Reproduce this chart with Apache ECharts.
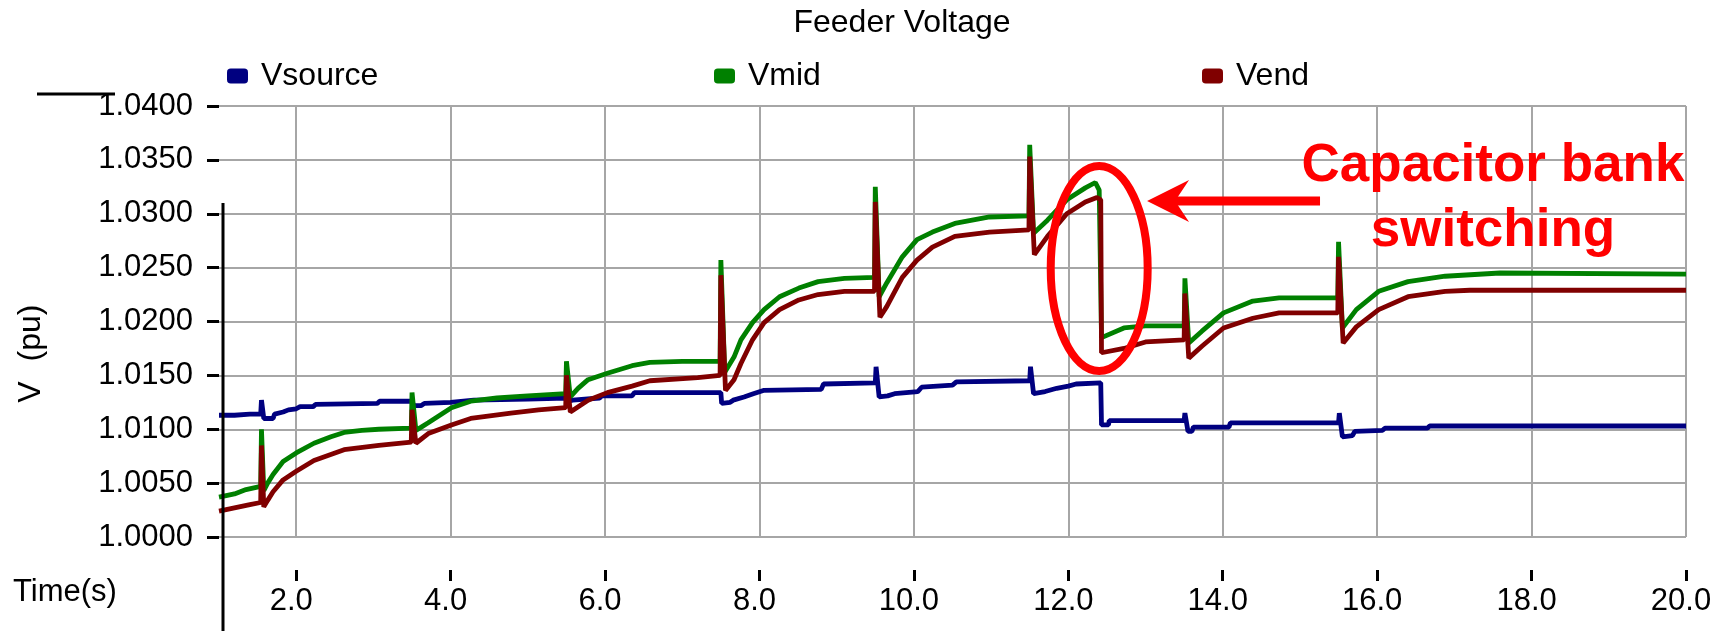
<!DOCTYPE html>
<html><head><meta charset="utf-8">
<script src="https://cdn.jsdelivr.net/npm/echarts@6/dist/echarts.min.js"></script>
<style>html,body{margin:0;padding:0;background:#fff}#c{width:1729px;height:631px}</style>
</head><body><div id="c"></div>
<script>
// ---- data ----
const seriesNames = ['Vsource', 'Vmid', 'Vend'];
const xTickValues = [2, 4, 6, 8, 10, 12, 14, 16, 18, 20];
const yMin = 1.0, yMax = 1.04, yStep = 0.005;

const vsource = [[1.00,1.0113],[1.20,1.0113],[1.40,1.0114],[1.54,1.0114],[1.55,1.0127],[1.57,1.0127],[1.58,1.0110],[1.70,1.0110],[1.72,1.0114],[1.83,1.0116],[1.90,1.0118],[2.00,1.0119],[2.05,1.0121],[2.22,1.0121],[2.25,1.0123],[3.05,1.0124],[3.08,1.0126],[3.50,1.0126],[3.52,1.0122],[3.62,1.0122],[3.66,1.0124],[4.00,1.0125],[4.30,1.0127],[5.00,1.0128],[5.50,1.0129],[5.52,1.0126],[5.58,1.0127],[5.93,1.0129],[5.96,1.0131],[6.35,1.0131],[6.38,1.0134],[7.50,1.0134],[7.51,1.0124],[7.62,1.0125],[7.66,1.0127],[7.80,1.0130],[7.92,1.0133],[8.05,1.0136],[8.80,1.0137],[8.83,1.0142],[9.50,1.0143],[9.51,1.0158],[9.53,1.0158],[9.55,1.0130],[9.66,1.0131],[9.75,1.0133],[10.05,1.0135],[10.10,1.0139],[10.50,1.0141],[10.55,1.0144],[11.50,1.0145],[11.51,1.0158],[11.53,1.0158],[11.55,1.0133],[11.70,1.0135],[11.85,1.0138],[12.00,1.0140],[12.10,1.0142],[12.42,1.0143],[12.43,1.0104],[12.52,1.0104],[12.53,1.0108],[13.50,1.0108],[13.51,1.0115],[13.53,1.0115],[13.55,1.0098],[13.60,1.0098],[13.62,1.0102],[14.08,1.0102],[14.10,1.0106],[15.50,1.0106],[15.51,1.0115],[15.53,1.0115],[15.55,1.0093],[15.68,1.0094],[15.71,1.0098],[16.07,1.0099],[16.10,1.0101],[16.65,1.0101],[16.68,1.0103],[20.00,1.0103]];

const vmid = [[1.00,1.0037],[1.20,1.0040],[1.35,1.0044],[1.54,1.0047],[1.55,1.0100],[1.57,1.0100],[1.58,1.0043],[1.63,1.0050],[1.70,1.0058],[1.83,1.0070],[2.00,1.0078],[2.23,1.0087],[2.45,1.0093],[2.62,1.0097],[2.85,1.0099],[3.07,1.0100],[3.49,1.0101],[3.50,1.0134],[3.52,1.0134],[3.55,1.0099],[3.62,1.0102],[3.71,1.0106],[3.86,1.0113],[4.01,1.0120],[4.26,1.0126],[4.60,1.0129],[5.00,1.0131],[5.49,1.0133],[5.50,1.0163],[5.52,1.0163],[5.55,1.0130],[5.65,1.0138],[5.78,1.0146],[6.03,1.0152],[6.35,1.0159],[6.58,1.0162],[7.00,1.0163],[7.49,1.0163],[7.50,1.0257],[7.52,1.0257],[7.55,1.0153],[7.67,1.0167],[7.76,1.0183],[7.91,1.0199],[8.06,1.0211],[8.26,1.0223],[8.51,1.0231],[8.76,1.0237],[9.10,1.0240],[9.49,1.0241],[9.50,1.0325],[9.52,1.0325],[9.55,1.0223],[9.65,1.0236],[9.85,1.0260],[10.04,1.0276],[10.24,1.0283],[10.53,1.0291],[10.98,1.0297],[11.49,1.0298],[11.50,1.0364],[11.52,1.0364],[11.55,1.0282],[11.73,1.0294],[11.98,1.0313],[12.22,1.0324],[12.35,1.0329],[12.40,1.0322],[12.42,1.0322],[12.43,1.0185],[12.72,1.0194],[13.00,1.0196],[13.50,1.0196],[13.51,1.0240],[13.53,1.0240],[13.56,1.0180],[13.73,1.0191],[14.01,1.0208],[14.39,1.0219],[14.73,1.0222],[15.49,1.0222],[15.50,1.0274],[15.52,1.0274],[15.55,1.0194],[15.73,1.0211],[16.02,1.0228],[16.40,1.0237],[16.88,1.0242],[17.59,1.0245],[20.00,1.0244]];

const vend = [[1.00,1.0024],[1.20,1.0027],[1.40,1.0030],[1.54,1.0032],[1.55,1.0085],[1.57,1.0085],[1.58,1.0028],[1.63,1.0034],[1.70,1.0042],[1.83,1.0053],[2.00,1.0061],[2.23,1.0071],[2.62,1.0081],[3.07,1.0085],[3.49,1.0088],[3.50,1.0118],[3.52,1.0118],[3.55,1.0087],[3.71,1.0096],[4.01,1.0104],[4.26,1.0110],[4.78,1.0115],[5.14,1.0118],[5.49,1.0120],[5.50,1.0150],[5.52,1.0150],[5.55,1.0116],[5.78,1.0127],[6.03,1.0134],[6.35,1.0140],[6.58,1.0145],[7.20,1.0148],[7.49,1.0150],[7.50,1.0243],[7.52,1.0243],[7.56,1.0136],[7.67,1.0146],[7.76,1.0161],[7.91,1.0183],[8.06,1.0199],[8.26,1.0211],[8.51,1.0220],[8.76,1.0225],[9.10,1.0228],[9.49,1.0228],[9.50,1.0311],[9.52,1.0311],[9.56,1.0204],[9.65,1.0214],[9.85,1.0241],[10.04,1.0257],[10.24,1.0269],[10.53,1.0279],[10.98,1.0283],[11.49,1.0285],[11.50,1.0353],[11.52,1.0353],[11.56,1.0262],[11.73,1.0279],[11.98,1.0300],[12.22,1.0311],[12.37,1.0315],[12.42,1.0313],[12.43,1.0171],[12.72,1.0175],[13.00,1.0181],[13.50,1.0183],[13.51,1.0226],[13.53,1.0226],[13.56,1.0166],[13.73,1.0177],[14.01,1.0194],[14.39,1.0203],[14.73,1.0208],[15.49,1.0208],[15.50,1.0260],[15.52,1.0260],[15.56,1.0180],[15.73,1.0195],[16.02,1.0211],[16.40,1.0223],[16.88,1.0228],[17.20,1.0229],[20.00,1.0229]];

const colors = ['#000080', '#008000', '#800000'];
const FONT = '"Liberation Sans", Arial, sans-serif';

// ---- chart ----
const chart = echarts.init(document.getElementById('c'), null, {renderer: 'canvas'});

function legendFor(name, left) {
  return {
    data: [name], left: left, top: 60, padding: 0,
    icon: 'roundRect', itemWidth: 21, itemHeight: 15,
    textStyle: {fontSize: 32, fontFamily: FONT, color: '#000', padding: [0, 0, 0, 8]},
    selectedMode: false
  };
}

const option = {
  animation: false,
  backgroundColor: '#fff',
  title: {
    text: 'Feeder Voltage', left: 897, textAlign: 'center', top: 2,
    textStyle: {fontSize: 32, fontWeight: 'normal', fontFamily: FONT, color: '#000'}
  },
  legend: [legendFor(seriesNames[0], 227), legendFor(seriesNames[1], 714), legendFor(seriesNames[2], 1202)],
  grid: {left: 219, right: 43, top: 106, bottom: 94, containLabel: false},
  xAxis: {
    type: 'value', min: 1, max: 20,
    offset: 33,
    axisLine: {show: false},
    axisTick: {show: true, length: 11, inside: false, customValues: xTickValues, lineStyle: {color: '#000', width: 3}},
    axisLabel: {customValues: xTickValues, margin: 16, fontSize: 31, fontFamily: FONT, color: '#000',
      padding: [0, 10, 0, 0], formatter: v => v.toFixed(1)},
    splitLine: {show: true, lineStyle: {color: '#a6a6a6', width: 2}}
  },
  yAxis: {
    type: 'value', min: yMin, max: yMax, interval: yStep,
    axisLine: {show: false},
    axisTick: {show: true, length: 12, lineStyle: {color: '#000', width: 3}},
    axisLabel: {margin: 26, fontSize: 31, fontFamily: FONT, color: '#000', formatter: v => v.toFixed(4)},
    splitLine: {show: true, lineStyle: {color: '#a6a6a6', width: 2}}
  },
  series: [vsource, vmid, vend].map((d, i) => ({
    name: seriesNames[i], type: 'line', data: d, symbol: 'none', showSymbol: false,
    color: colors[i], lineStyle: {color: colors[i], width: 4.8}, z: 2 + i
  }))
};
chart.setOption(option);

// ---- annotations (placed from data coordinates) ----
const P = (t, v) => chart.convertToPixel({gridIndex: 0}, [t, v]);
const c = P(12.40, 1.02492);
const rxP = P(12.40 + 0.628, 1.02492)[0] - c[0];
const ryP = c[1] - P(12.40, 1.02492 + 0.00951)[1];
const tip = P(13.02, 1.03118);
const tail = P(15.26, 1.03118);
const txt1 = P(17.50, 1.03439);
const txt2 = P(17.50, 1.02836);

chart.setOption({
  graphic: [
    {type: 'line', shape: {x1: 37, y1: 94, x2: 115, y2: 94}, style: {stroke: '#000', lineWidth: 3}, z: 10},
    {type: 'line', shape: {x1: 223, y1: 203, x2: 223, y2: 631}, style: {stroke: '#000', lineWidth: 3}, z: 10},
    {type: 'text', x: 31, y: 392, rotation: Math.PI / 2,
      style: {text: 'V', fontSize: 32, fontFamily: FONT, fill: '#000', align: 'center', verticalAlign: 'middle'}},
    {type: 'text', x: 31, y: 333, rotation: Math.PI / 2,
      style: {text: '(pu)', fontSize: 32, fontFamily: FONT, fill: '#000', align: 'center', verticalAlign: 'middle'}},
    {type: 'text', x: 13, y: 592,
      style: {text: 'Time(s)', fontSize: 31, fontFamily: FONT, fill: '#000', align: 'left', verticalAlign: 'middle'}},
    {type: 'ellipse', shape: {cx: c[0], cy: c[1], rx: rxP, ry: ryP},
      style: {fill: 'none', stroke: '#ff0000', lineWidth: 8}, z: 20},
    {type: 'line', shape: {x1: tip[0] + 25, y1: tip[1], x2: tail[0], y2: tail[1]},
      style: {stroke: '#ff0000', lineWidth: 9}, z: 20},
    {type: 'polygon', shape: {points: [[tip[0], tip[1]], [tip[0] + 42, tip[1] - 21], [tip[0] + 28, tip[1]], [tip[0] + 42, tip[1] + 21]]},
      style: {fill: '#ff0000'}, z: 20},
    {type: 'text', x: txt1[0], y: txt1[1],
      style: {text: 'Capacitor bank', fontSize: 53, fontWeight: 'bold', fontFamily: FONT, fill: '#ff0000', align: 'center', verticalAlign: 'middle'}, z: 20},
    {type: 'text', x: txt2[0], y: txt2[1],
      style: {text: 'switching', fontSize: 53, fontWeight: 'bold', fontFamily: FONT, fill: '#ff0000', align: 'center', verticalAlign: 'middle'}, z: 20}
  ]
});
</script>
</body></html>
